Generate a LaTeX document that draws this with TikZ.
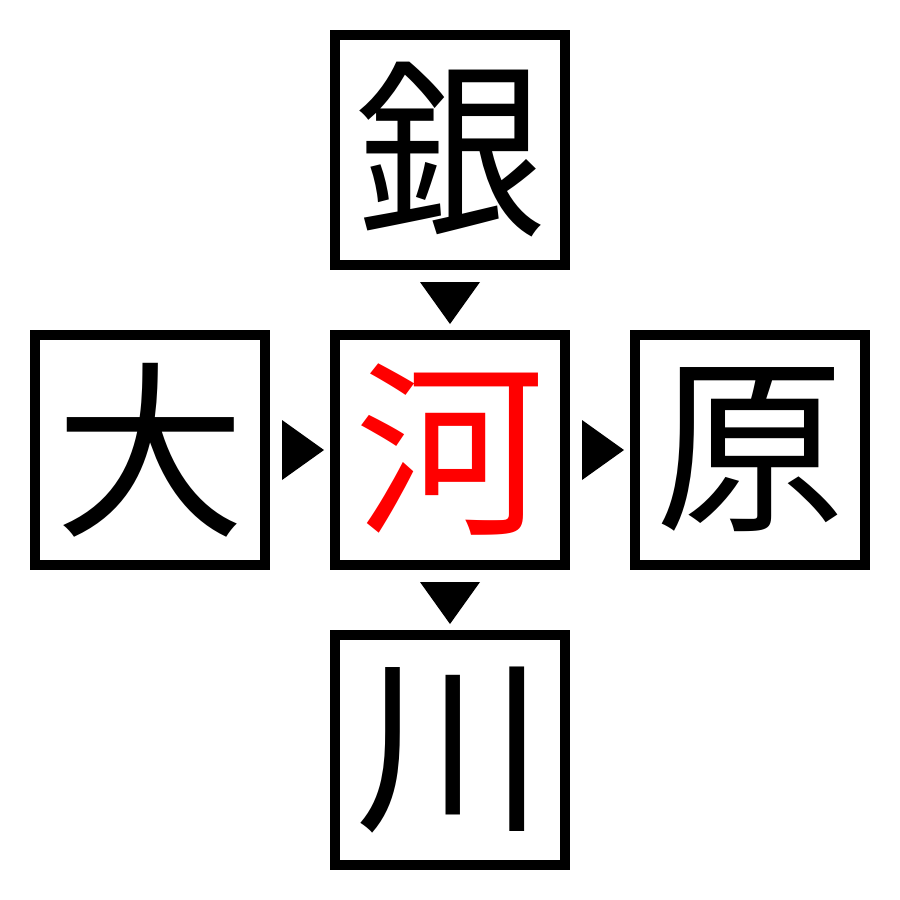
\documentclass[tikz,border=0pt]{standalone}
\usepackage{fontspec}
\newfontfamily\cjk{Noto Sans CJK JP}
\begin{document}
\begin{tikzpicture}[x=1cm,y=1cm,
  kbox/.style={draw=black, line width=0.1cm, minimum width=2.3cm, minimum height=2.3cm, inner sep=0pt, font=\cjk\fontsize{54}{54}\selectfont},
  tri/.style={fill=black}]
\useasboundingbox (0,0) rectangle (9,-9);
\node[kbox] (top) at (4.5,-1.5) {銀};
\node[kbox, text=red] (mid) at (4.5,-4.5) {河};
\node[kbox] (left) at (1.5,-4.5) {大};
\node[kbox] (right) at (7.5,-4.5) {原};
\node[kbox] (bot) at (4.5,-7.5) {川};
% markers
\fill[tri] (4.2,-2.82) -- (4.8,-2.82) -- (4.5,-3.24) -- cycle;
\fill[tri] (4.2,-5.82) -- (4.8,-5.82) -- (4.5,-6.24) -- cycle;
\fill[tri] (2.82,-4.2) -- (2.82,-4.8) -- (3.24,-4.5) -- cycle;
\fill[tri] (5.82,-4.2) -- (5.82,-4.8) -- (6.24,-4.5) -- cycle;
\end{tikzpicture}
\end{document}
